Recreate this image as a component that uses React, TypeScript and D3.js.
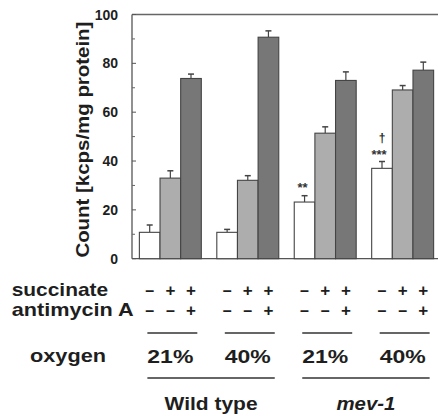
import React from 'react';
import * as d3 from 'd3';

// groups: strain x oxygen
const groups = ['WT 21%', 'WT 40%', 'mev-1 21%', 'mev-1 40%'];
const conditions = ['none', 'succinate', 'succinate+antimycin'];
const means = [
  [10.8, 33, 73.8],
  [10.8, 32.1, 90.7],
  [23.2, 51.4, 73],
  [37, 69.1, 77.2],
];
const errors = [
  [3, 3, 1.8],
  [1.2, 1.9, 2.6],
  [2.6, 2.6, 3.5],
  [2.8, 1.8, 3.3],
];
const succinateSigns = ['–', '+', '+'];
const antimycinSigns = ['–', '–', '+'];
const oxygenLabels = ['21%', '40%', '21%', '40%'];
const strains = ['Wild type', 'mev-1'];
const yTicks = [0, 20, 40, 60, 80, 100];
const yMinor = [10, 30, 50, 70, 90];

const fills = ['#ffffff', '#adadad', '#777777'];
const FONT = '"Liberation Sans", Arial, Helvetica, sans-serif';
const INK = '#1e1e1e';

const App = () => {
  const left = 132;
  const right = 438;
  const y = d3.scaleLinear().domain([0, 100]).range([258.7, 14.5]);
  const x = d3.scaleBand().domain(groups).range([135.5, 437.5]).paddingInner(0.2).paddingOuter(0.05);
  const xi = d3.scaleBand().domain(conditions).range([0, x.bandwidth()]);
  const center = (g, c) => x(groups[g]) + xi(conditions[c]) + xi.bandwidth() / 2;
  const strainWidths = [93, 59];
  const signSize = (s) => (s === '+' ? 17 : 16);

  return (
    <svg width={438} height={416} style={{ position: 'absolute', left: 0, top: 0 }} fontFamily={FONT} fontWeight="bold">
      {/* frame */}
      <line x1={left} x2={left} y1={y(100)} y2={y(0)} stroke="#555" strokeWidth={1.3} />
      <line x1={left} x2={right} y1={y(100)} y2={y(100)} stroke="#666" strokeWidth={1.3} />
      <line x1={left} x2={right} y1={y(0)} y2={y(0)} stroke="#555" strokeWidth={1.3} />
      {yTicks.map((t) => (
        <g key={t}>
          <line x1={left} x2={left + 4} y1={y(t)} y2={y(t)} stroke="#555" strokeWidth={1} />
          <text x={118} y={y(t) + 5} textAnchor="end" fontSize={14} fill={INK}>{t}</text>
        </g>
      ))}
      {yMinor.map((t) => (
        <line key={t} x1={left} x2={left + 3} y1={y(t)} y2={y(t)} stroke="#666" strokeWidth={1} />
      ))}
      <text transform={`translate(89,${(y(0) + y(100)) / 2 + 3}) rotate(-90)`} textAnchor="middle" fontSize={18} fill={INK}
        textLength={236} lengthAdjust="spacingAndGlyphs">
        Count  [kcps/mg protein]
      </text>

      {/* bars */}
      {means.map((row, g) => row.map((v, c) => {
        const bx = x(groups[g]) + xi(conditions[c]);
        const cx = center(g, c);
        const top = y(v + errors[g][c]);
        return (
          <g key={`${g}-${c}`}>
            <line x1={cx} x2={cx} y1={y(v)} y2={top} stroke="#444" strokeWidth={1.2} />
            <line x1={cx - 3} x2={cx + 3} y1={top} y2={top} stroke="#444" strokeWidth={1.5} />
            <rect x={bx} y={y(v)} width={xi.bandwidth()} height={y(0) - y(v)} fill={fills[c]} stroke="#444" strokeWidth={1.1} />
          </g>
        );
      }))}

      {/* significance marks */}
      <text x={center(2, 0) - 2} y={192} textAnchor="middle" fontSize={13} fill="#333">**</text>
      <text x={center(3, 0) - 3} y={159} textAnchor="middle" fontSize={13} fill="#333">***</text>
      <text x={center(3, 0)} y={142} textAnchor="middle" fontSize={12} fill="#222">†</text>

      {/* condition table */}
      <text x={11.7} y={296} fontSize={19} fill={INK} textLength={96.5} lengthAdjust="spacingAndGlyphs">succinate</text>
      <text x={11.7} y={316} fontSize={19} fill={INK} textLength={122} lengthAdjust="spacingAndGlyphs">antimycin A</text>
      {groups.map((gname, g) => (
        <g key={gname}>
          {conditions.map((cname, c) => (
            <g key={cname}>
              <text x={center(g, c)} y={296} textAnchor="middle" fontSize={signSize(succinateSigns[c])} fill={INK}>{succinateSigns[c]}</text>
              <text x={center(g, c)} y={316} textAnchor="middle" fontSize={signSize(antimycinSigns[c])} fill={INK}>{antimycinSigns[c]}</text>
            </g>
          ))}
          <line x1={x(gname) + 8} x2={x(gname) + x.bandwidth() - 4} y1={333} y2={333} stroke="#333" strokeWidth={1.3} />
          <text x={x(gname) + x.bandwidth() / 2} y={363} textAnchor="middle" fontSize={18.5} fill={INK}
            textLength={46} lengthAdjust="spacingAndGlyphs">{oxygenLabels[g]}</text>
        </g>
      ))}
      <text x={68} y={362} textAnchor="middle" fontSize={19} fill={INK} textLength={76} lengthAdjust="spacingAndGlyphs">oxygen</text>
      {strains.map((s, i) => {
        const x1 = x(groups[i * 2]) + 8;
        const x2 = x(groups[i * 2 + 1]) + x.bandwidth() - 4;
        return (
          <g key={s}>
            <line x1={x1} x2={x2} y1={378} y2={378} stroke="#333" strokeWidth={1.3} />
            <text x={(x1 + x2) / 2} y={410} textAnchor="middle" fontSize={19} fill={INK}
              fontStyle={i === 1 ? 'italic' : 'normal'} textLength={strainWidths[i]} lengthAdjust="spacingAndGlyphs">{s}</text>
          </g>
        );
      })}
    </svg>
  );
};

export default App;
